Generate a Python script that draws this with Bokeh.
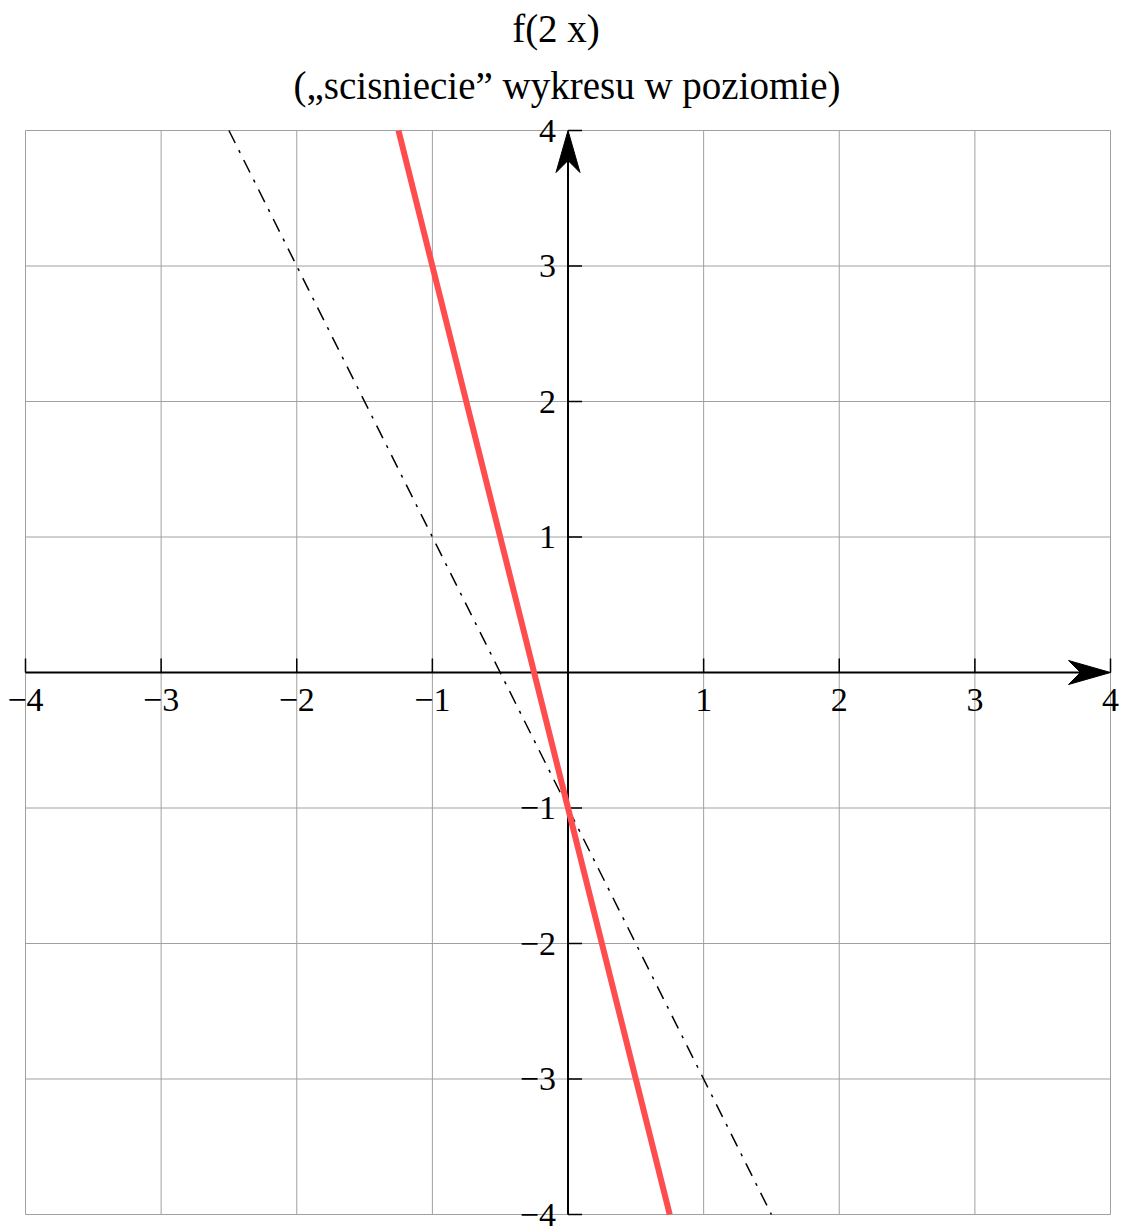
from bokeh.plotting import figure
from bokeh.models import Range1d
from bokeh.core.properties import value
from bokeh.embed import file_html
from bokeh.resources import INLINE

# --- data ---------------------------------------------------------------
ticks = [-4, -3, -2, -1, 0, 1, 2, 3, 4]
x_tick_values = [-4, -3, -2, -1, 1, 2, 3, 4]
x_tick_labels = ["\u22124", "\u22123", "\u22122", "\u22121", "1", "2", "3", "4"]
y_tick_values = [-4, -3, -2, -1, 1, 2, 3, 4]
y_tick_labels = ["\u22124", "\u22123", "\u22122", "\u22121", "1", "2", "3", "4"]

# f(x) = -2x - 1  (dash-dot reference line)
fx_x = [-2.5, -2, -1, 0, 1, 1.5]
fx_y = [4, 3, 1, -1, -3, -4]
# f(2x) = -4x - 1  (red line)
f2x_x = [-1.25, -1, -0.5, 0, 0.5, 0.75]
f2x_y = [4, 3, 1, -1, -3, -4]

title_lines = ["f(2 x)", "(\u201escisniecie\u201d wykresu w poziomie)"]

# --- canvas / scale -----------------------------------------------------
W, H = 1121, 1226
left_px, right_px, top_px, bottom_px = 25, 1110, 130, 1214
sx = (right_px - left_px) / 8.0
sy = (bottom_px - top_px) / 8.0

x0 = -4 - left_px / sx
x1 = 4 + (W - right_px) / sx
y1 = 4 + top_px / sy
y0 = -4 - (H - bottom_px) / sy

p = figure(width=W, height=H, output_backend="svg", toolbar_location=None,
           x_axis_location=None, y_axis_location=None,
           x_range=Range1d(x0, x1), y_range=Range1d(y0, y1),
           min_border=0, outline_line_color=None)
p.grid.visible = False
p.background_fill_color = "white"
p.border_fill_color = "white"

FONT = value("Liberation Serif")
GRID = "#a0a0a0"

# grid (frame lines included)
p.segment(x0=ticks, y0=[-4] * len(ticks), x1=ticks, y1=[4] * len(ticks),
          line_color=GRID, line_width=1)
p.segment(x0=[-4] * len(ticks), y0=ticks, x1=[4] * len(ticks), y1=ticks,
          line_color=GRID, line_width=1)

# axes through the origin
p.segment(x0=[-4], y0=[0], x1=[4 - 30 / sx], y1=[0], line_color="black", line_width=2)
p.segment(x0=[0], y0=[-4], x1=[0], y1=[4 - 30 / sy], line_color="black", line_width=2)

# small ticks on the axes
tl = 14
p.segment(x0=x_tick_values, y0=[0] * len(x_tick_values), x1=x_tick_values,
          y1=[tl / sy] * len(x_tick_values), line_color="black", line_width=1.5)
p.segment(x0=[0] * len(y_tick_values), y0=y_tick_values, x1=[tl / sx] * len(y_tick_values),
          y1=y_tick_values, line_color="black", line_width=1.5)

# arrow heads (notched, Mathematica style)
L, Wd, N = 42, 12, 30
p.patch(x=[4, 4 - L / sx, 4 - N / sx, 4 - L / sx],
        y=[0, Wd / sy, 0, -Wd / sy], fill_color="black", line_color="black", line_width=1)
p.patch(x=[0, Wd / sx, 0, -Wd / sx],
        y=[4, 4 - L / sy, 4 - N / sy, 4 - L / sy], fill_color="black", line_color="black", line_width=1)

# curves
p.line(fx_x, fx_y, line_color="black", line_width=1.5, line_dash="14 8 3 8")
p.line(f2x_x, f2x_y, line_color="#ff4d4d", line_width=6)

# tick labels
p.text(x=x_tick_values, y=[-16 / sy] * len(x_tick_values), text=x_tick_labels,
       text_font=FONT, text_font_size=value("34px"), text_color="black",
       text_align="center", text_baseline="top")
p.text(x=[-12 / sx] * len(y_tick_values), y=y_tick_values, text=y_tick_labels,
       text_font=FONT, text_font_size=value("34px"), text_color="black",
       text_align="right", text_baseline="middle")

# two-line title
cx = (x0 + x1) / 2
p.text(x=[cx - 5 / sx, cx + 6 / sx], y=[4 + 102 / sy, 4 + 45 / sy], text=title_lines,
       text_font=FONT, text_font_size=value("39px"), text_color="black",
       text_align="center", text_baseline="middle")

open("out.html", "w").write(file_html(p, INLINE))
